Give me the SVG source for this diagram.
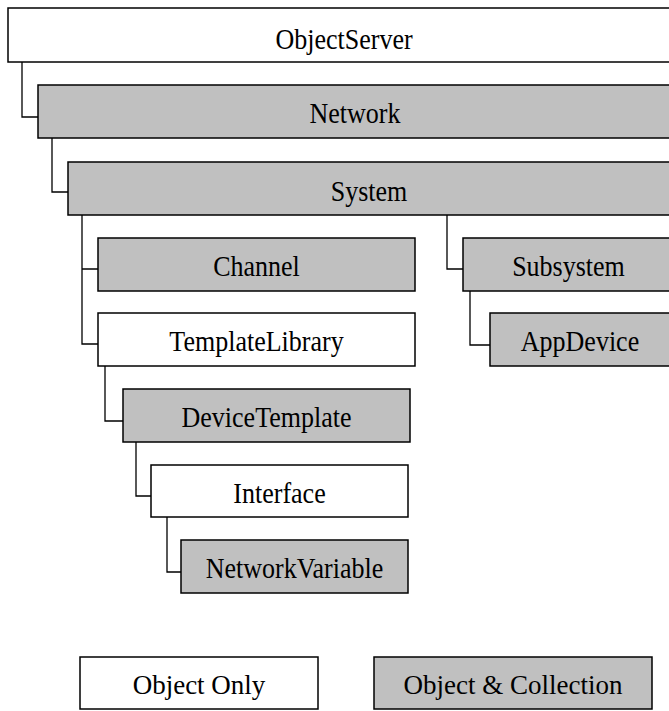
<svg xmlns="http://www.w3.org/2000/svg" width="669" height="711" viewBox="0 0 669 711">
<style>
.box{stroke:#000;stroke-width:1.5}
.w{fill:#fff}
.g{fill:#c0c0c0}
.t{font-family:"Liberation Serif","Times New Roman",serif;font-size:26px;fill:#000;text-anchor:middle}
.l{font-size:27px}
.c{fill:none;stroke:#000;stroke-width:1.3}
</style>
<rect width="669" height="711" fill="#fff"/>
<g id="connectors">
<path class="c" d="M22 62V117H38"/>
<path class="c" d="M52 138V192H68"/>
<path class="c" d="M82 215V344H98M82 269H98"/>
<path class="c" d="M447 215V269H463"/>
<path class="c" d="M470 291V345H490"/>
<path class="c" d="M105 366V421H123"/>
<path class="c" d="M136 442V496H151"/>
<path class="c" d="M167 517V572H181"/>
</g>
<g id="objectserver"><rect class="box w" x="8" y="8" width="672" height="54"/><text class="t" transform="translate(344 49) scale(1 1.1)">ObjectServer</text></g>
<g id="network"><rect class="box g" x="38" y="85" width="642" height="53"/><text class="t" transform="translate(355 123) scale(1 1.1)">Network</text></g>
<g id="system"><rect class="box g" x="68" y="162" width="612" height="53"/><text class="t" transform="translate(369 201) scale(1 1.1)">System</text></g>
<g id="channel"><rect class="box g" x="98" y="238" width="317" height="53"/><text class="t" transform="translate(256.5 276) scale(1 1.1)">Channel</text></g>
<g id="templatelibrary"><rect class="box w" x="98" y="313" width="317" height="53"/><text class="t" transform="translate(256.5 351) scale(1 1.1)">TemplateLibrary</text></g>
<g id="subsystem"><rect class="box g" x="463" y="238" width="217" height="53"/><text class="t" transform="translate(568.5 276) scale(1 1.1)">Subsystem</text></g>
<g id="appdevice"><rect class="box g" x="490" y="313" width="190" height="53"/><text class="t" transform="translate(580 351) scale(1 1.1)">AppDevice</text></g>
<g id="devicetemplate"><rect class="box g" x="123" y="389" width="287" height="53"/><text class="t" transform="translate(266.5 427) scale(1 1.1)">DeviceTemplate</text></g>
<g id="interface"><rect class="box w" x="151" y="465" width="257" height="52"/><text class="t" transform="translate(279.5 503) scale(1 1.1)">Interface</text></g>
<g id="networkvariable"><rect class="box g" x="181" y="540" width="227" height="53"/><text class="t" transform="translate(294.5 578) scale(1 1.1)">NetworkVariable</text></g>
<g id="legend-object-only"><rect class="box w" x="80" y="657" width="238" height="52"/><text class="t l" transform="translate(199 694) scale(1 1.05)">Object Only</text></g>
<g id="legend-object-collection"><rect class="box g" x="374" y="657" width="278" height="52"/><text class="t l" transform="translate(513 694) scale(1 1.05)">Object &amp; Collection</text></g>
</svg>
